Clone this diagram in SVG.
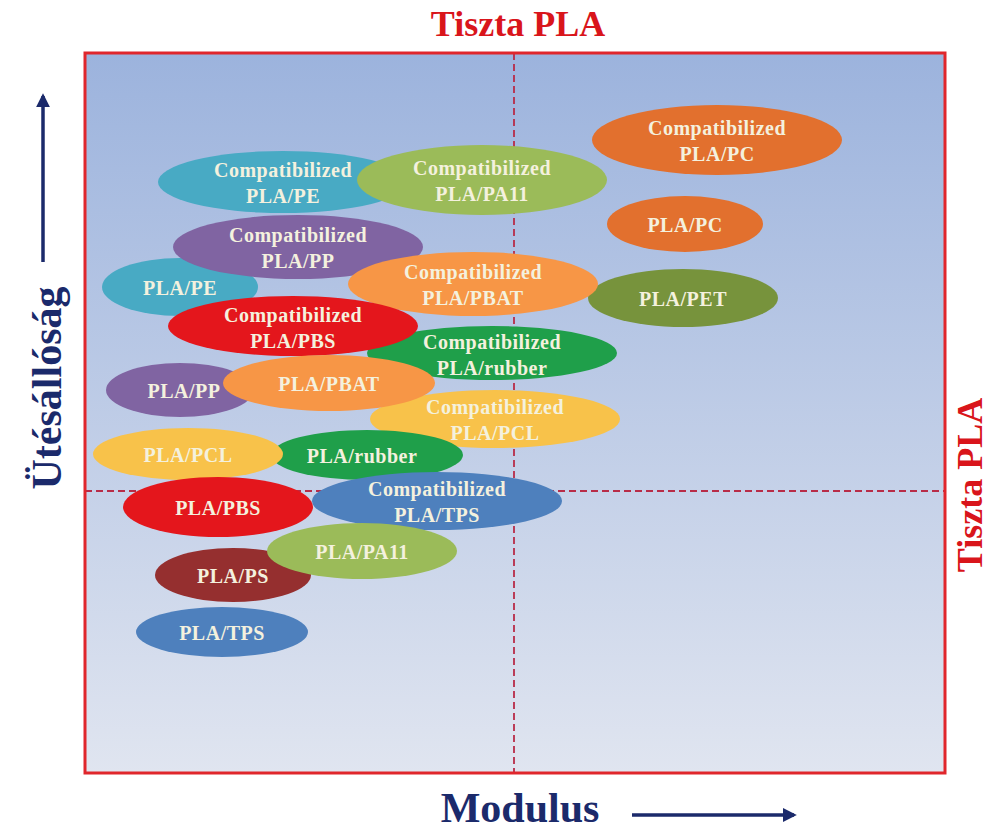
<svg xmlns="http://www.w3.org/2000/svg" width="990" height="830" viewBox="0 0 990 830">
<defs>
<linearGradient id="bg" x1="0" y1="0" x2="0" y2="1">
<stop offset="0" stop-color="#9cb3dd"/>
<stop offset="1" stop-color="#e0e5f0"/>
</linearGradient>
<marker id="ah" viewBox="0 0 10 10" refX="8" refY="5" markerWidth="4" markerHeight="4" orient="auto" markerUnits="strokeWidth">
<path d="M0,0 L10,5 L0,10 z" fill="#1b2a6b"/>
</marker>
<style>
.lbl{font-family:"Liberation Serif","Times New Roman",serif;font-weight:bold;font-size:20px;fill:#f4f1de;text-anchor:middle;letter-spacing:0.5px}
.ttl{font-family:"Liberation Serif","Times New Roman",serif;font-weight:bold;font-size:36px;fill:#d9151b;text-anchor:middle}
.ax{font-family:"Liberation Serif","Times New Roman",serif;font-weight:bold;fill:#1b2a6b;text-anchor:middle}
.dash{stroke:#b82c48;stroke-width:1.8;stroke-dasharray:7 4;fill:none}
.teal{fill:#48aac4}.lgreen{fill:#9bbb59}.purple{fill:#8064a2}.orange{fill:#f79646}
.red{fill:#e4161c}.green{fill:#1f9f4a}.yellow{fill:#f8c24a}.blue{fill:#4e80bd}
.dred{fill:#952f2f}.pc{fill:#e2702e}.olive{fill:#77933c}
</style>
</defs>
<rect x="0" y="0" width="990" height="830" fill="#ffffff"/>
<rect x="85" y="53" width="860" height="720" fill="url(#bg)"/>
<g id="connectors">
<line class="dash" x1="514" y1="53" x2="514" y2="773"/>
<line class="dash" x1="85" y1="491" x2="945" y2="491"/>
</g>
<rect x="85" y="53" width="860" height="720" fill="none" stroke="#e0262c" stroke-width="3"/>
<text class="ttl" x="518" y="36">Tiszta PLA</text>
<text class="ttl" font-size="35" transform="translate(982,485) rotate(-90)">Tiszta PLA</text>
<text class="ax" font-size="42" transform="translate(61,388) rotate(-90)">Ütésállóság</text>
<line x1="43" y1="262" x2="43" y2="96" stroke="#1b2a6b" stroke-width="3.5" marker-end="url(#ah)"/>
<text class="ax" font-size="42" x="520" y="822">Modulus</text>
<line x1="632" y1="815" x2="794" y2="815" stroke="#1b2a6b" stroke-width="3.5" marker-end="url(#ah)"/>

<g id="n-cpe"><ellipse class="teal" cx="283" cy="182" rx="125" ry="31"/><text class="lbl" x="283" y="177">Compatibilized</text><text class="lbl" x="283" y="203">PLA/PE</text></g>
<g id="n-cpa11"><ellipse class="lgreen" cx="482" cy="180" rx="125" ry="35"/><text class="lbl" x="482" y="175">Compatibilized</text><text class="lbl" x="482" y="201">PLA/PA11</text></g>
<g id="n-cpc"><ellipse class="pc" cx="717" cy="140" rx="125" ry="35"/><text class="lbl" x="717" y="135">Compatibilized</text><text class="lbl" x="717" y="161">PLA/PC</text></g>
<g id="n-pc"><ellipse class="pc" cx="685" cy="224" rx="78" ry="28"/><text class="lbl" x="685" y="232">PLA/PC</text></g>
<g id="n-pet"><ellipse class="olive" cx="683" cy="298" rx="95" ry="29"/><text class="lbl" x="683" y="306">PLA/PET</text></g>
<g id="n-pe"><ellipse class="teal" cx="180" cy="287" rx="78" ry="29"/><text class="lbl" x="180" y="295">PLA/PE</text></g>
<g id="n-cpp"><ellipse class="purple" cx="298" cy="247" rx="125" ry="32"/><text class="lbl" x="298" y="242">Compatibilized</text><text class="lbl" x="298" y="268">PLA/PP</text></g>
<g id="n-cpbat"><ellipse class="orange" cx="473" cy="284" rx="125" ry="32"/><text class="lbl" x="473" y="279">Compatibilized</text><text class="lbl" x="473" y="305">PLA/PBAT</text></g>
<g id="n-crubber"><ellipse class="green" cx="492" cy="353" rx="125" ry="27"/><text class="lbl" x="492" y="349">Compatibilized</text><text class="lbl" x="492" y="375">PLA/rubber</text></g>
<g id="n-cpbs"><ellipse class="red" cx="293" cy="326" rx="125" ry="30"/><text class="lbl" x="293" y="322">Compatibilized</text><text class="lbl" x="293" y="348">PLA/PBS</text></g>
<g id="n-cpcl"><ellipse class="yellow" cx="495" cy="419" rx="125" ry="29"/><text class="lbl" x="495" y="414">Compatibilized</text><text class="lbl" x="495" y="440">PLA/PCL</text></g>
<g id="n-pp"><ellipse class="purple" cx="180" cy="390" rx="74" ry="27"/><text class="lbl" x="184" y="398">PLA/PP</text></g>
<g id="n-pbat"><ellipse class="orange" cx="329" cy="383" rx="106" ry="28"/><text class="lbl" x="329" y="391">PLA/PBAT</text></g>
<g id="n-rubber"><ellipse class="green" cx="367" cy="455" rx="96" ry="25"/><text class="lbl" x="362" y="463">PLA/rubber</text></g>
<g id="n-pcl"><ellipse class="yellow" cx="188" cy="454" rx="95" ry="26"/><text class="lbl" x="188" y="462">PLA/PCL</text></g>
<g id="n-ctps"><ellipse class="blue" cx="437" cy="501" rx="125" ry="29"/><text class="lbl" x="437" y="496">Compatibilized</text><text class="lbl" x="437" y="522">PLA/TPS</text></g>
<g id="n-ps"><ellipse class="dred" cx="233" cy="575" rx="78" ry="27"/><text class="lbl" x="233" y="583">PLA/PS</text></g>
<g id="n-pa11"><ellipse class="lgreen" cx="362" cy="551" rx="95" ry="28"/><text class="lbl" x="362" y="559">PLA/PA11</text></g>
<g id="n-pbs"><ellipse class="red" cx="218" cy="507" rx="95" ry="30"/><text class="lbl" x="218" y="515">PLA/PBS</text></g>
<g id="n-tps"><ellipse class="blue" cx="222" cy="632" rx="86" ry="25"/><text class="lbl" x="222" y="640">PLA/TPS</text></g>
</svg>
